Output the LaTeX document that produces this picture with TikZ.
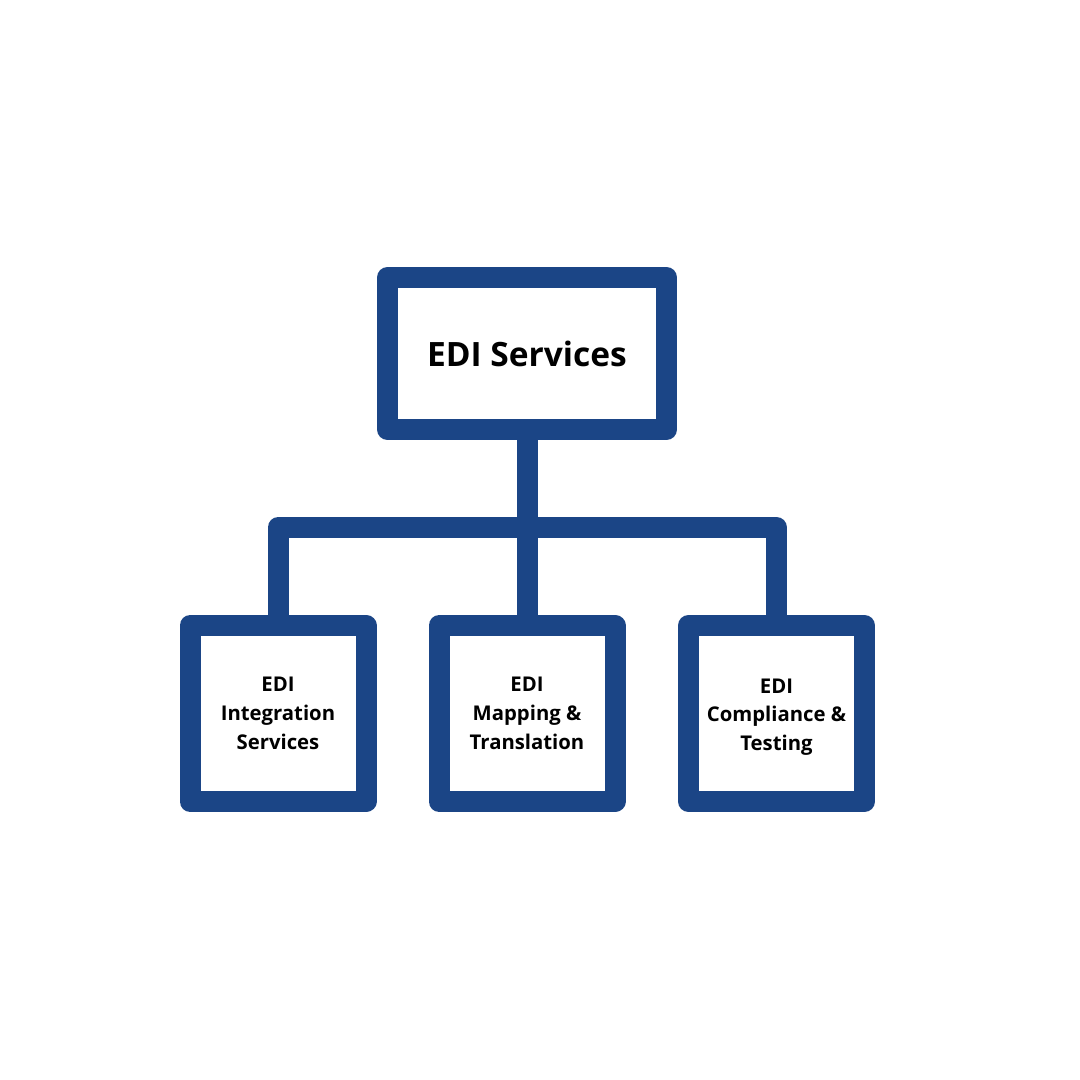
\documentclass[tikz,border=0pt]{standalone}
\usepackage{fontspec}
\setmainfont{Open Sans}
\definecolor{edib}{HTML}{1B4586}
\begin{document}
\begin{tikzpicture}[x=1pt,y=-1pt,
  box/.style={draw=edib,line width=21pt,line join=round,fill=white,outer sep=0pt,inner sep=0pt,align=center,text=black},
  topbox/.style={box,minimum width=279pt,minimum height=152pt,font=\fontsize{33.5}{40}\selectfont\bfseries},
  subbox/.style={box,minimum width=176pt,minimum height=176pt,font=\fontsize{20.3}{28.7}\selectfont\bfseries},
  subtext/.style={align=center,inner sep=0pt,text=black,font=\fontsize{20.3}{28.7}\selectfont\bfseries},
  conn/.style={draw=edib,line width=21pt,line join=round}]
\useasboundingbox (0,0) rectangle (1080,1080);
\node[topbox] (top) at (527,353.5) {EDI Services};
\node[subbox] (left) at (278,713.5) {EDI\\Integration\\Services};
\node[subbox] (mid) at (527,713.5) {EDI\\Mapping \&\\Translation};
\node[subbox] (right) at (776.5,713.5) {};
\node[subtext] (righttext) at ([yshift=-3.5pt]right.center) {EDI\\Compliance \&\\Testing};
\coordinate (bar) at (527,527.5);
\draw[conn] (top.south) -- (mid.north);
\draw[conn] (left.north) |- (bar) -| (right.north);
\end{tikzpicture}
\end{document}
